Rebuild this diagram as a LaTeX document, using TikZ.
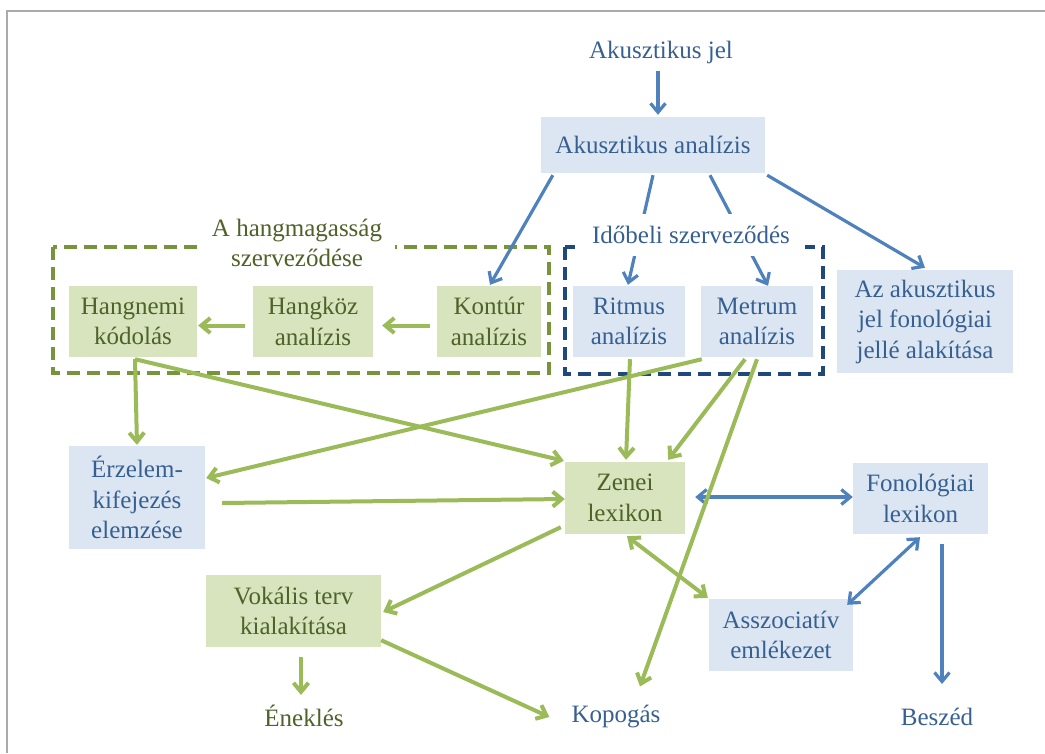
\documentclass[tikz,border=0pt]{standalone}
\usepackage{fontspec}
\setmainfont{Liberation Serif}
\usetikzlibrary{arrows.meta,calc}
\definecolor{bfill}{RGB}{220,230,242}
\definecolor{gfill}{RGB}{215,228,189}
\definecolor{btext}{RGB}{55,96,146}
\definecolor{gtext}{RGB}{79,98,40}
\definecolor{barrow}{RGB}{79,129,189}
\definecolor{garrow}{RGB}{155,187,89}
\definecolor{gdash}{RGB}{119,147,60}
\definecolor{bdash}{RGB}{31,73,125}
\definecolor{framegray}{RGB}{170,170,170}
\begin{document}
\begin{tikzpicture}[x=1pt,y=-1pt,
  every node/.style={font=\fontsize{25}{30.5}\selectfont, align=center, inner sep=0pt},
  >={Straight Barb[length=9pt,width=15pt]},
  bbox/.style={fill=bfill, text=btext},
  gbox/.style={fill=gfill, text=gtext},
  btxt/.style={text=btext},
  gtxt/.style={text=gtext},
  barr/.style={draw=barrow, line width=3.2pt, ->},
  garr/.style={draw=garrow, line width=4pt, ->},
  gdashbox/.style={draw=gdash, line width=3.5pt, dash pattern=on 13pt off 7pt},
  bdashbox/.style={draw=bdash, line width=3.5pt, dash pattern=on 13pt off 7pt},
]
\useasboundingbox (0,0) rectangle (1045,753);
\draw[framegray, line width=2pt] (6.5,753) -- (6.5,10.5) -- (1045,10.5);

% dashed group frames
\draw[gdashbox] (53,247) rectangle (549,373);
\draw[bdashbox] (565,247) rectangle (823,374);

% nodes
\node[btxt] (ajel) at (661,52) {Akusztikus jel};
\node[bbox, minimum width=224pt, minimum height=56pt] (akan) at (653,145) {Akusztikus analízis};
\node[gbox, minimum width=128pt, minimum height=71pt] (hangnemi) at (133,321.5) {Hangnemi\\kódolás};
\node[gbox, minimum width=120pt, minimum height=71pt] (hangkoz) at (313,321.5) {Hangköz\\analízis};
\node[gbox, minimum width=104pt, minimum height=71pt] (kontur) at (489,321.5) {Kontúr\\analízis};
\node[bbox, minimum width=112pt, minimum height=71pt] (ritmus) at (629,321.5) {Ritmus\\analízis};
\node[bbox, minimum width=112pt, minimum height=71pt] (metrum) at (757,321.5) {Metrum\\analízis};
\node[bbox, minimum width=176pt, minimum height=103pt] (azak) at (925,321.5) {Az akusztikus\\jel fonológiai\\jellé alakítása};
\node[bbox, minimum width=136pt, minimum height=103pt] (erzelem) at (137,497.5) {Érzelem-\\kifejezés\\elemzése};
\node[gbox, minimum width=120pt, minimum height=72pt] (zenei) at (625,498) {Zenei\\lexikon};
\node[bbox, minimum width=135pt, minimum height=71pt] (fonol) at (920.5,498.5) {Fonológiai\\lexikon};
\node[gbox, minimum width=175pt, minimum height=72pt] (vokalis) at (293.5,611) {Vokális terv\\kialakítása};
\node[bbox, minimum width=144pt, minimum height=72pt] (asszoc) at (781,635) {Asszociatív\\emlékezet};
\node[gtxt] (enekles) at (304,716) {Éneklés};
\node[btxt] (kopogas) at (616,716) {Kopogás};
\node[btxt] (beszed) at (937,717) {Beszéd};

% blue arrows
\draw[barr] ($(ajel.south)+(-3,7)$) -- ($(akan.north)+(5,-2)$);
\draw[barr] ($(akan.south west)+(12,2)$) -- ($(kontur.north)+(1,-1)$);
\draw[barr] ($(akan.south)+(0,2)$) -- ($(ritmus.north)+(-1,-1)$);
\draw[barr] ($(akan.south)+(57,2)$) -- ($(metrum.north)+(11,0)$);
\draw[barr] ($(akan.south east)+(2,2)$) -- ($(azak.north)+(0,-2)$);
\draw[barr,<->] ($(zenei.east)+(10,-1)$) -- ($(fonol.west)+(0,-1.5)$);
\draw[barr,<->] ($(fonol.south)+(-0.5,3)$) -- ($(asszoc.north east)+(-6,6)$);
\draw[barr] ($(fonol.south)+(21.5,10)$) -- ($(beszed.north)+(5,-24)$);

% green arrows
\draw[garr] ($(kontur.west)+(-7,4)$) -- ($(hangkoz.east)+(9,4)$);
\draw[garr] ($(hangkoz.west)+(-8,4)$) -- ($(hangnemi.east)+(1,4)$);
\draw[garr] ($(hangnemi.south)+(2,2)$) -- ($(erzelem.north)+(0,-1)$);
\draw[garr] ($(hangnemi.south)+(2,2)$) -- ($(zenei.north west)+(-1,-1)$);
\draw[garr] ($(ritmus.south)+(1,2)$) -- ($(zenei.north)+(1,-2)$);
\draw[garr] ($(metrum.south)+(-12,2)$) -- ($(zenei.north east)+(-17,-2)$);
\draw[garr] ($(metrum.south)+(0,2)$) -- ($(kopogas.north)+(24,-18)$);
\draw[garr] ($(metrum.south west)+(1,2)$) -- ($(erzelem.east)+(1,-19.5)$);
\draw[garr] ($(erzelem.east)+(17,5.5)$) -- ($(zenei.west)+(0,1)$);
\draw[garr] ($(zenei.south west)+(-4,-7)$) -- ($(vokalis.east)+(2,1)$);
\draw[garr] ($(vokalis.south)+(7.5,10)$) -- ($(enekles.north)+(-3,-10)$);
\draw[garr] ($(vokalis.south east)+(0,-7)$) -- ($(kopogas.west)+(-22,1)$);
\draw[garr,<->] ($(zenei.south)+(2,2)$) -- ($(asszoc.north west)+(-1,-1)$);

% group labels (white background hides frame and arrows behind)
\node[fill=white, text=gtext, minimum width=196pt, minimum height=62pt] (glabel) at (297,243) {A hangmagasság\\szerveződése};
\node[fill=white, text=btext, minimum width=228pt, minimum height=42pt] (blabel) at (691,235) {Időbeli szerveződés};
\end{tikzpicture}
\end{document}
